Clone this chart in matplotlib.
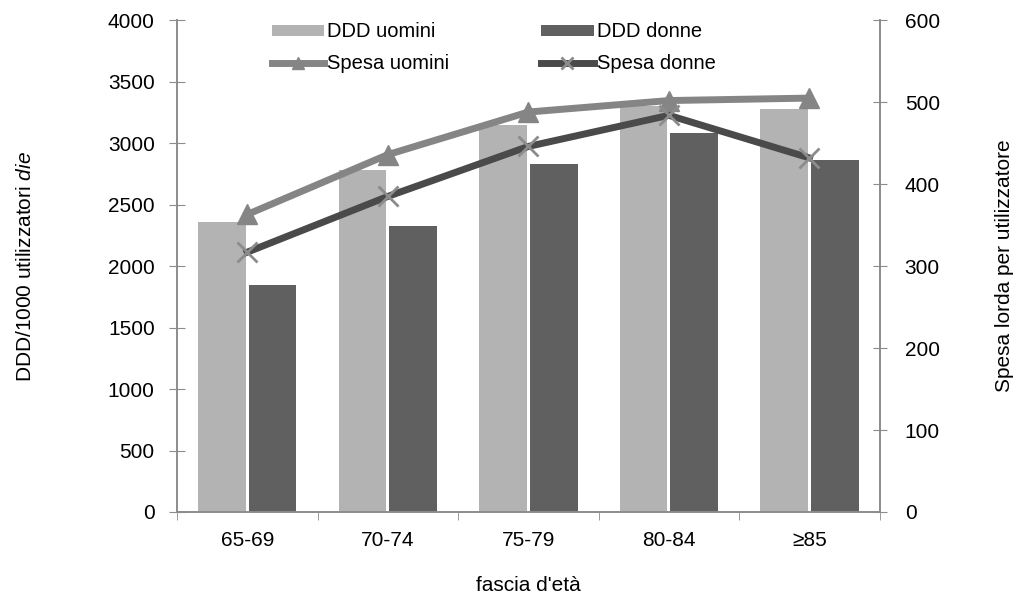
import numpy as np
import matplotlib.pyplot as plt

plt.rcParams['font.family'] = ['Liberation Sans', 'DejaVu Sans']
plt.rcParams['mathtext.fontset'] = 'custom'
plt.rcParams['mathtext.rm'] = 'Liberation Sans'
plt.rcParams['mathtext.it'] = 'Liberation Sans:italic'

# dati per fascia d'età
fasce = ['65-69', '70-74', '75-79', '80-84', '≥85']
ddd_uomini = [2360, 2780, 3150, 3300, 3280]
ddd_donne = [1850, 2330, 2830, 3080, 2860]
spesa_uomini = [363, 436, 488, 502, 505]
spesa_donne = [317, 385, 446, 484, 432]

c_ddd_u = '#b3b3b3'
c_ddd_d = '#606060'
c_sp_u = '#858585'
c_sp_d = '#4a4a4a'
grigio = '#8c8c8c'
fs = 15

fig = plt.figure(figsize=(10.17, 5.95), dpi=100)
ax = fig.add_axes([0.174, 0.1395, 0.691, 0.8265])
ax2 = ax.twinx()

x = np.arange(len(fasce))
w = 0.34
b1 = ax.bar(x - 0.18, ddd_uomini, w, color=c_ddd_u, label='DDD uomini')
b2 = ax.bar(x + 0.18, ddd_donne, w, color=c_ddd_d, label='DDD donne')

l1, = ax2.plot(x, spesa_uomini, color=c_sp_u, lw=5, marker='^', ms=14,
               mfc=c_sp_u, mec=c_sp_u, label='Spesa uomini')
l2, = ax2.plot(x, spesa_donne, color=c_sp_d, lw=5, marker='x', ms=15,
               mew=2, mec=grigio, label='Spesa donne')

ax.set_xlim(-0.5, len(fasce) - 0.5)
ax.set_ylim(0, 4000)
ax.set_yticks(np.arange(0, 4001, 500))
ax2.set_ylim(0, 600)
ax2.set_yticks(np.arange(0, 601, 100))

ax.set_xticks(x)
ax.set_xticklabels(fasce)
ax.set_xticks(np.arange(-0.5, len(fasce)), minor=True)
ax.tick_params(axis='x', which='major', length=0, pad=14, labelsize=fs)
ax.tick_params(axis='x', which='minor', length=6, color=grigio)
ax.tick_params(axis='y', direction='inout', length=12, color=grigio,
               labelsize=fs, pad=10)
ax2.tick_params(axis='y', direction='inout', length=10, color=grigio,
                labelsize=fs, pad=13)

for a in (ax, ax2):
    a.spines['top'].set_visible(False)
    for s in ('left', 'right', 'bottom'):
        a.spines[s].set_color(grigio)
        a.spines[s].set_linewidth(1.2)

ax.set_xlabel("fascia d'età", fontsize=fs)
ax.xaxis.label.set_verticalalignment('baseline')
ax.xaxis.set_label_coords(0.5, -0.1606)
ax.set_ylabel('DDD/1000 utilizzatori $\\mathit{die}$', fontsize=fs)
ax.yaxis.set_label_coords(-0.202, 0.5)
ax2.set_ylabel('Spesa lorda per utilizzatore', fontsize=fs)
ax2.yaxis.set_label_coords(1.1636, 0.5)

fig.legend([b1, l1, b2, l2], ['DDD uomini', 'Spesa uomini', 'DDD donne', 'Spesa donne'],
           ncol=2, frameon=False, loc='upper left', bbox_to_anchor=(0.2576, 0.9795),
           borderpad=0, fontsize=14.5, handlelength=2.6, handleheight=0.45,
           handletextpad=0.15, columnspacing=4.55, labelspacing=0.65, markerscale=0.6)

fig.savefig('out.png', dpi=100)
